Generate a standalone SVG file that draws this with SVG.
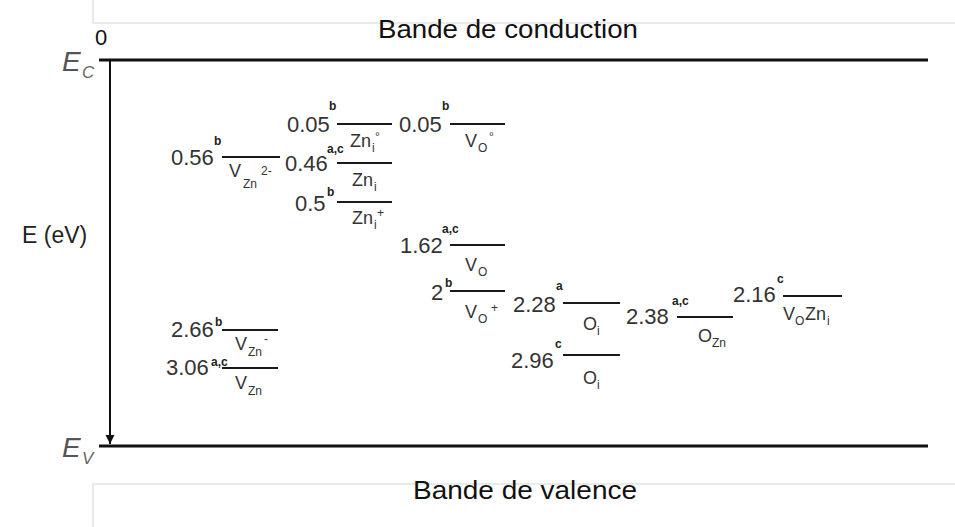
<svg xmlns="http://www.w3.org/2000/svg" width="955" height="527" viewBox="0 0 955 527">
<style>
text{font-family:"Liberation Sans",Arial,sans-serif;fill:#333}
.num{font-size:22px}
.sp{font-size:18px}
.sub{font-size:12px}
.sup{font-size:12px}
.ref{font-size:12px;font-weight:bold;fill:#222}
.lvl{stroke:#1a1a1a;stroke-width:2}
.band{stroke:#111;stroke-width:3}
.frame{stroke:#e2e2e2;stroke-width:1.5;fill:none}
.title{font-size:26px;fill:#111}
</style>
<defs>
<marker id="arr" markerWidth="10" markerHeight="10" refX="9" refY="5" orient="auto" markerUnits="userSpaceOnUse">
<path d="M0,0.5 L9,5 L0,9.5 Z" fill="#111"/>
</marker>
</defs>
<rect width="955" height="527" fill="#fff"/>
<path class="frame" d="M93,0 V23 H955 M93,527 V484 H955"/>
<g id="bands">
<line class="band" x1="99" y1="60" x2="928" y2="60"/>
<line class="band" x1="99" y1="446" x2="928" y2="446"/>
<text x="378" y="38" class="title" textLength="260" lengthAdjust="spacingAndGlyphs">Bande de conduction</text>
<text x="413" y="499" class="title" textLength="224" lengthAdjust="spacingAndGlyphs">Bande de valence</text>
<text x="62" y="71" style="font-size:28px;font-style:italic;fill:#555">E</text>
<text x="82" y="78" style="font-size:17px;font-style:italic;fill:#666">C</text>
<text x="95" y="45" style="font-size:22px;fill:#111">0</text>
<text x="62" y="457" style="font-size:28px;font-style:italic;fill:#555">E</text>
<text x="82" y="464" style="font-size:17px;font-style:italic;fill:#666">V</text>
<text x="22" y="243" style="font-size:23px;fill:#222">E (eV)</text>
</g>
<g id="connectors">
<line x1="110" y1="60" x2="110" y2="444" stroke="#111" stroke-width="2" marker-end="url(#arr)"/>
</g>
<g id="vzn2m">
<line class="lvl" x1="222" y1="157" x2="280" y2="157"/>
<text class="num" x="171" y="165">0.56</text><text class="ref" x="214" y="145">b</text>
<text class="sp" x="229" y="177">V</text><text class="sub" x="243" y="188">Zn</text><text class="sup" x="261" y="175">2-</text>
</g>
<g id="zni0">
<line class="lvl" x1="337" y1="124" x2="392" y2="124"/>
<text class="num" x="287" y="132">0.05</text><text class="ref" x="329" y="110">b</text>
<text class="sp" x="350" y="147">Zn</text><text class="sub" x="372" y="152">i</text><text class="sup" x="375" y="141">°</text>
</g>
<g id="zni">
<line class="lvl" x1="337" y1="163" x2="392" y2="163"/>
<text class="num" x="285" y="171">0.46</text><text class="ref" x="327" y="153">a,c</text>
<text class="sp" x="352" y="186">Zn</text><text class="sub" x="374" y="191">i</text>
</g>
<g id="znip">
<line class="lvl" x1="337" y1="202" x2="392" y2="202"/>
<text class="num" x="295" y="211">0.5</text><text class="ref" x="327" y="196">b</text>
<text class="sp" x="352" y="224">Zn</text><text class="sub" x="374" y="229">i</text><text class="sup" x="377" y="217">+</text>
</g>
<g id="vo0">
<line class="lvl" x1="450" y1="124" x2="505" y2="124"/>
<text class="num" x="399" y="132">0.05</text><text class="ref" x="442" y="110">b</text>
<text class="sp" x="465" y="147">V</text><text class="sub" x="478" y="152">O</text><text class="sup" x="489" y="141">°</text>
</g>
<g id="vo">
<line class="lvl" x1="450" y1="245" x2="505" y2="245"/>
<text class="num" x="400" y="253">1.62</text><text class="ref" x="442" y="233">a,c</text>
<text class="sp" x="465" y="271">V</text><text class="sub" x="478" y="276">O</text>
</g>
<g id="vop">
<line class="lvl" x1="450" y1="291" x2="505" y2="291"/>
<text class="num" x="431" y="300">2</text><text class="ref" x="445" y="287">b</text>
<text class="sp" x="465" y="318">V</text><text class="sub" x="478" y="323">O</text><text class="sup" x="491" y="312">+</text>
</g>
<g id="oi1">
<line class="lvl" x1="563" y1="303" x2="620" y2="303"/>
<text class="num" x="513" y="312">2.28</text><text class="ref" x="556" y="290">a</text>
<text class="sp" x="583" y="330">O</text><text class="sub" x="597" y="335">i</text>
</g>
<g id="oi2">
<line class="lvl" x1="563" y1="355" x2="620" y2="355"/>
<text class="num" x="511" y="368">2.96</text><text class="ref" x="555" y="348">c</text>
<text class="sp" x="583" y="384">O</text><text class="sub" x="597" y="389">i</text>
</g>
<g id="ozn">
<line class="lvl" x1="677" y1="317" x2="733" y2="317"/>
<text class="num" x="626" y="324">2.38</text><text class="ref" x="672" y="305">a,c</text>
<text class="sp" x="698" y="342">O</text><text class="sub" x="712" y="347">Zn</text>
</g>
<g id="vozni">
<line class="lvl" x1="783" y1="296" x2="842" y2="296"/>
<text class="num" x="733" y="302">2.16</text><text class="ref" x="777" y="283">c</text>
<text class="sp" x="783" y="320">V</text><text class="sub" x="795" y="325">O</text><text class="sp" x="805" y="320">Zn</text><text class="sub" x="827" y="325">i</text>
</g>
<g id="vznm">
<line class="lvl" x1="222" y1="330" x2="278" y2="330"/>
<text class="num" x="171" y="337">2.66</text><text class="ref" x="215" y="326">b</text>
<text class="sp" x="235" y="350">V</text><text class="sub" x="248" y="356">Zn</text><text class="sup" x="264" y="343">-</text>
</g>
<g id="vzn">
<line class="lvl" x1="222" y1="368" x2="278" y2="368"/>
<text class="num" x="166" y="375">3.06</text><text class="ref" x="211" y="366">a,c</text>
<text class="sp" x="235" y="389">V</text><text class="sub" x="248" y="395">Zn</text>
</g>
</svg>
